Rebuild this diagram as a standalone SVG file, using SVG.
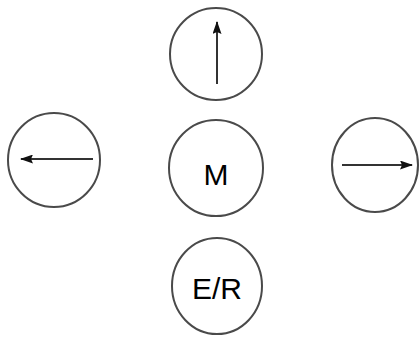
<svg xmlns="http://www.w3.org/2000/svg" width="419" height="341" viewBox="0 0 419 341">
  <style>
    .ring { fill: #ffffff; stroke: #4a4a4a; stroke-width: 2; }
    .dir { stroke: #333333; stroke-width: 2; fill: none; marker-end: url(#tip); }
    .lbl { font-family: "Liberation Sans", Arial, sans-serif; font-size: 30px; fill: #000000; text-anchor: middle; }
  </style>
  <defs>
    <marker id="tip" viewBox="0 0 13 9" refX="12" refY="4.5" markerWidth="13" markerHeight="9" orient="auto" markerUnits="userSpaceOnUse">
      <path d="M0,0 L13,4.5 L0,9 L2,4.5 Z" fill="#111111"/>
    </marker>
  </defs>
  <rect width="419" height="341" fill="#ffffff"/>
  <g id="up">
    <ellipse class="ring" cx="216" cy="54" rx="46" ry="46"/>
  </g>
  <g id="left">
    <ellipse class="ring" cx="54" cy="160" rx="46" ry="47"/>
  </g>
  <g id="right">
    <ellipse class="ring" cx="375" cy="165" rx="43" ry="47"/>
  </g>
  <g id="m">
    <ellipse class="ring" cx="216" cy="168" rx="47" ry="48"/>
    <text class="lbl" x="216" y="185">M</text>
  </g>
  <g id="er">
    <ellipse class="ring" cx="217" cy="286" rx="45" ry="48"/>
    <text class="lbl" x="217" y="299">E/R</text>
  </g>
  <g id="connectors">
    <line class="dir" x1="217" y1="84" x2="217" y2="22"/>
    <line class="dir" x1="93" y1="159" x2="21" y2="159"/>
    <line class="dir" x1="342" y1="165" x2="412" y2="165"/>
  </g>
</svg>
